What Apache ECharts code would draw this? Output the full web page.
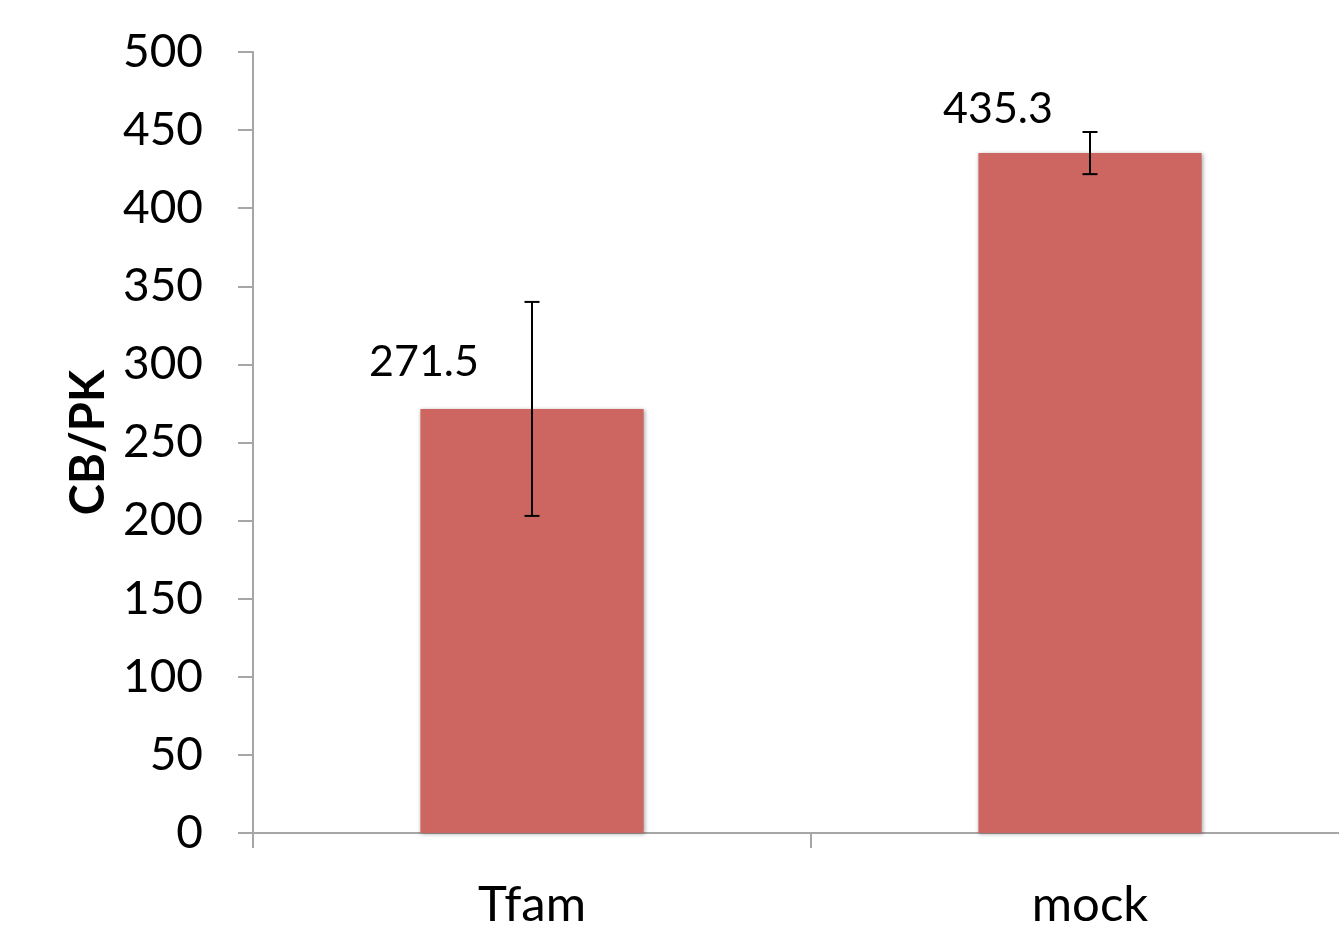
<!DOCTYPE html>
<html>
<head>
<meta charset="utf-8">
<script src="https://cdn.jsdelivr.net/npm/echarts@6/dist/echarts.min.js"></script>
<style>
  html, body { margin: 0; padding: 0; background: #fff; overflow: hidden; }
  /* a bit wider than the window: the plot area runs off the right edge in the original */
  #chart { width: 1369px; height: 927px; }
</style>
</head>
<body>
<div id="chart"></div>
<script>
const categories = ["Tfam", "mock"];
const means = [271.5, 435.3];
const errors = [68.5, 13.5];

const FONT = "Lato, 'Open Sans', sans-serif";
const AXIS_COLOR = "#a6a6a6";
const BAR_COLOR = "#cd6660";

// label nudges, Excel placed them off-centre
const labelOffsets = [[-108, -25], [-92, -22]];

const chart = echarts.init(document.getElementById("chart"), null, { renderer: "canvas" });

const option = {
  animation: false,
  backgroundColor: "#fff",
  grid: { left: 253, top: 52, bottom: 94, right: 0, outerBoundsMode: "none" },
  xAxis: {
    type: "category",
    data: categories,
    boundaryGap: true,
    axisLine: { lineStyle: { color: AXIS_COLOR, width: 2 } },
    axisTick: { show: true, length: 15, lineStyle: { color: AXIS_COLOR, width: 2 } },
    axisLabel: { color: "#000", fontSize: 49, fontFamily: FONT, margin: 48 },
  },
  yAxis: {
    type: "value",
    min: 0,
    max: 500,
    interval: 50,
    name: "CB/PK",
    nameLocation: "middle",
    nameGap: 140,
    nameTextStyle: { color: "#000", fontSize: 47, fontWeight: "bold", fontFamily: FONT },
    axisLine: { show: true, lineStyle: { color: AXIS_COLOR, width: 2 } },
    axisTick: { show: true, length: 15, lineStyle: { color: AXIS_COLOR, width: 2 } },
    axisLabel: { color: "#000", fontSize: 46, fontFamily: FONT, margin: 50, padding: [6, 0, 0, 0] },
    splitLine: { show: false },
  },
  series: [
    {
      type: "bar",
      barWidth: "40%",
      data: means.map((v, i) => ({
        value: v,
        label: { offset: labelOffsets[i] },
      })),
      itemStyle: {
        color: BAR_COLOR,
        shadowBlur: 4,
        shadowColor: "rgba(0,0,0,0.35)",
        shadowOffsetX: 1,
        shadowOffsetY: 1,
      },
      label: {
        show: true,
        position: "top",
        distance: 0,
        color: "#000",
        fontSize: 43,
        lineHeight: 44,
        fontFamily: FONT,
        formatter: (p) => p.value.toFixed(1),
      },
      emphasis: { disabled: true },
      z: 2,
    },
    {
      type: "custom",
      z: 5,
      data: means.map((m, i) => [i, m - errors[i], m + errors[i]]),
      renderItem: (params, api) => {
        const lo = api.coord([api.value(0), api.value(1)]);
        const hi = api.coord([api.value(0), api.value(2)]);
        const half = 7.5;
        const style = { stroke: "#000", lineWidth: 2 };
        return {
          type: "group",
          children: [
            { type: "line", shape: { x1: hi[0], y1: hi[1], x2: lo[0], y2: lo[1] }, style },
            { type: "line", shape: { x1: hi[0] - half, y1: hi[1], x2: hi[0] + half, y2: hi[1] }, style },
            { type: "line", shape: { x1: lo[0] - half, y1: lo[1], x2: lo[0] + half, y2: lo[1] }, style },
          ],
        };
      },
    },
  ],
};

chart.setOption(option);
</script>
</body>
</html>
